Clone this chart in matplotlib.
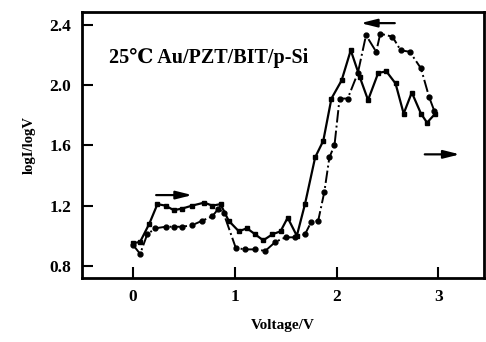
import matplotlib
matplotlib.use("Agg")
import matplotlib.pyplot as plt

# Forward sweep (solid line, squares)
v_fwd = [0.00, 0.07, 0.16, 0.24, 0.32, 0.40, 0.48, 0.58, 0.70, 0.78, 0.86, 0.94,
         1.04, 1.12, 1.20, 1.28, 1.37, 1.45, 1.52, 1.61, 1.69, 1.79, 1.87, 1.95,
         2.05, 2.14, 2.23, 2.31, 2.41, 2.49, 2.58, 2.66, 2.74, 2.83, 2.89, 2.97]
j_fwd = [0.95, 0.96, 1.08, 1.21, 1.20, 1.17, 1.18, 1.20, 1.22, 1.20, 1.21, 1.10,
         1.03, 1.05, 1.01, 0.97, 1.01, 1.03, 1.12, 1.00, 1.21, 1.52, 1.63, 1.91,
         2.03, 2.23, 2.05, 1.90, 2.08, 2.09, 2.01, 1.81, 1.95, 1.81, 1.75, 1.81]

# Reverse sweep (dash-dot line, circles)
v_rev = [0.00, 0.07, 0.14, 0.22, 0.32, 0.40, 0.48, 0.58, 0.68, 0.78, 0.84, 0.89,
         1.01, 1.10, 1.20, 1.30, 1.40, 1.50, 1.59, 1.69, 1.75, 1.82, 1.88, 1.93,
         1.98, 2.03, 2.11, 2.21, 2.29, 2.39, 2.43, 2.55, 2.63, 2.72, 2.83, 2.91,
         2.96]
j_rev = [0.94, 0.88, 1.01, 1.05, 1.06, 1.06, 1.06, 1.07, 1.10, 1.13, 1.18, 1.15,
         0.92, 0.91, 0.91, 0.90, 0.96, 0.99, 0.99, 1.01, 1.09, 1.10, 1.29, 1.52,
         1.60, 1.91, 1.91, 2.08, 2.33, 2.22, 2.34, 2.32, 2.23, 2.22, 2.11, 1.92,
         1.83]

xticks = [0, 1, 2, 3]
yticks = [0.8, 1.2, 1.6, 2.0, 2.4]

plt.rcParams['font.family'] = ['Liberation Serif', 'DejaVu Serif']
plt.rcParams['font.weight'] = 'bold'

fig = plt.figure(figsize=(4.86, 3.42), dpi=100)
ax = fig.add_axes([0.169, 0.187, 0.827, 0.778])

ax.plot(v_fwd, j_fwd, color="black", linewidth=1.6, linestyle="-",
        marker="s", markersize=3.5)
ax.plot(v_rev, j_rev, color="black", linewidth=1.4, linestyle="-.",
        marker="o", markersize=3.5)

# fletxes del sentit d'escombrat
arr = dict(arrowstyle="-|>,head_length=0.8,head_width=0.2", color="black",
           lw=1.6, mutation_scale=12)
ax.annotate("", xy=(0.61, 1.27), xytext=(0.20, 1.27), arrowprops=arr)
ax.annotate("", xy=(2.21, 2.41), xytext=(2.60, 2.41), arrowprops=arr)
ax.annotate("", xy=(3.24, 1.54), xytext=(2.84, 1.54), arrowprops=arr)

ax.text(-0.24, 2.18, "25\u2103 Au/PZT/BIT/p-Si", fontsize=14.5, fontweight="bold",
        va="center", ha="left")

ax.set_xlim(-0.5, 3.45)
ax.set_ylim(0.72, 2.484)
ax.set_xticks(xticks)
ax.set_yticks(yticks)
ax.set_yticklabels(["0.8", "1.2", "1.6", "2.0", "2.4"])
ax.tick_params(direction="in", length=8, width=1.5, labelsize=12.5, pad=8)
for s in ax.spines.values():
    s.set_linewidth(2)

ax.set_xlabel("Voltage/V", fontsize=11, fontweight="bold", labelpad=10)
ax.set_ylabel("logI/logV", fontsize=10.5, fontweight="bold", labelpad=10)

plt.savefig("out.png", dpi=100)
